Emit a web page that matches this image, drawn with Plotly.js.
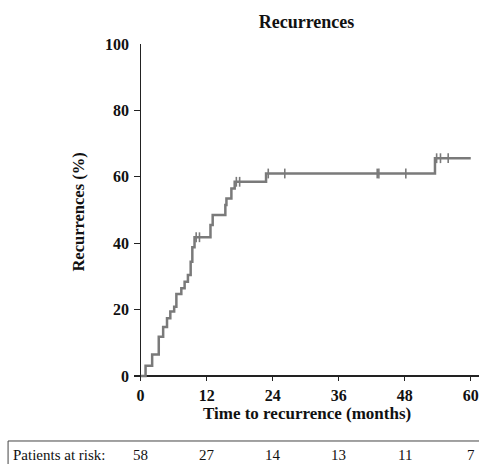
<!DOCTYPE html>
<html>
<head>
<meta charset="utf-8">
<script src="https://cdn.plot.ly/plotly-3.0.1.min.js"></script>
<style>html,body{margin:0;padding:0;background:#fff;}#chart{width:479px;height:464px;}</style>
</head>
<body>
<div id="chart"></div>
<script>
// Kaplan-Meier style cumulative recurrence (%)
var stepTimes  = [0, 0.9, 2.1, 3.3, 4.1, 4.8, 5.4, 6.1, 6.5, 7.4, 8.0, 8.6, 9.1, 9.4, 9.8, 12.7, 13.1, 15.4, 15.6, 16.5, 17.1, 22.8, 53.5, 60];
var stepValues = [0, 3.1, 6.5, 11.8, 14.8, 17.4, 19.4, 20.9, 24.7, 26.4, 28.4, 30.4, 34.4, 38.8, 41.8, 45.5, 48.5, 51.5, 53.5, 56.5, 58.5, 61.0, 65.6, 65.6];
var censorTimes = [10.1, 10.7, 17.4, 18.0, 23.2, 26.2, 43.0, 43.3, 48.2, 53.8, 54.5, 55.9];
var riskTimes  = [0, 12, 24, 36, 48, 60];
var riskCounts = [58, 27, 14, 13, 11, 7];
var xTicks = [0, 12, 24, 36, 48, 60];
var yTicks = [0, 20, 40, 60, 80, 100];

function valueAt(t) {
  var v = stepValues[0];
  for (var i = 0; i < stepTimes.length; i++) { if (stepTimes[i] <= t) v = stepValues[i]; }
  return v;
}
var censorValues = censorTimes.map(valueAt);

var serif = 'Liberation Serif, Times New Roman, serif';
var lineColor = '#7a7a7a';
var axisColor = '#222222';

var traces = [
  {x: stepTimes, y: stepValues, mode: 'lines', line: {shape: 'hv', color: lineColor, width: 2.5}, hoverinfo: 'skip'},
  {x: censorTimes, y: censorValues, mode: 'markers', marker: {symbol: 'line-ns-open', size: 7, color: lineColor, line: {color: lineColor, width: 1.6}}, hoverinfo: 'skip'}
];

var annotations = [
  {text: '<b>Recurrences (%)</b>', xref: 'paper', yref: 'paper', x: -0.162, y: 0.5, textangle: -90, showarrow: false, xanchor: 'center', yanchor: 'middle', font: {family: serif, size: 16.5, color: '#111'}},
  {text: '<b>Time to recurrence (months)</b>', xref: 'paper', yref: 'paper', x: 0.5, y: -0.097, showarrow: false, xanchor: 'center', yanchor: 'middle', font: {family: serif, size: 17, color: '#111'}},
  {text: 'Patients at risk:', xref: 'paper', yref: 'paper', x: -0.356, y: -0.2196, showarrow: false, xanchor: 'left', yanchor: 'middle', font: {family: serif, size: 15, color: '#111'}}
];
for (var i = 0; i < riskTimes.length; i++) {
  annotations.push({text: String(riskCounts[i]), xref: 'x', yref: 'paper', x: riskTimes[i], y: -0.2196, showarrow: false, xanchor: 'center', yanchor: 'middle', font: {family: serif, size: 15, color: '#111'}});
}

var layout = {
  width: 479, height: 464,
  margin: {l: 134, r: 0, t: 44, b: 83, pad: 0},
  paper_bgcolor: '#fff', plot_bgcolor: '#fff',
  showlegend: false,
  title: {text: '<b>Recurrences</b>', xref: 'paper', x: 0.5, xanchor: 'center', yref: 'container', y: 1 - 22/464, yanchor: 'middle', font: {family: serif, size: 18, color: '#111'}},
  xaxis: {
    range: [-1.2, 61.5], showgrid: false, showline: false,
    zeroline: true, zerolinecolor: axisColor, zerolinewidth: 1.5,
    tickmode: 'array', tickvals: xTicks, ticktext: xTicks.map(String),
    ticks: 'inside', ticklen: 6, tickwidth: 1, tickcolor: axisColor,
    ticklabelstandoff: 3,
    tickfont: {family: serif, size: 16, color: '#111', weight: 'bold'}
  },
  yaxis: {
    range: [-1.5, 100], showgrid: false, showline: false,
    zeroline: true, zerolinecolor: axisColor, zerolinewidth: 1.5,
    tickmode: 'array', tickvals: yTicks, ticktext: yTicks.map(String),
    ticks: 'inside', ticklen: 6, tickwidth: 1, tickcolor: axisColor,
    ticklabelstandoff: 4,
    tickfont: {family: serif, size: 16, color: '#111', weight: 'bold'}
  },
  shapes: [
    {type: 'line', xref: 'paper', yref: 'paper', x0: -0.365, x1: 1, y0: -0.178, y1: -0.178, line: {color: '#444', width: 1}},
    {type: 'line', xref: 'paper', yref: 'paper', x0: -0.365, x1: -0.365, y0: -0.178, y1: -0.26, line: {color: '#444', width: 1}}
  ],
  annotations: annotations
};

Plotly.newPlot('chart', traces, layout, {staticPlot: true, displayModeBar: false});
</script>
</body>
</html>
